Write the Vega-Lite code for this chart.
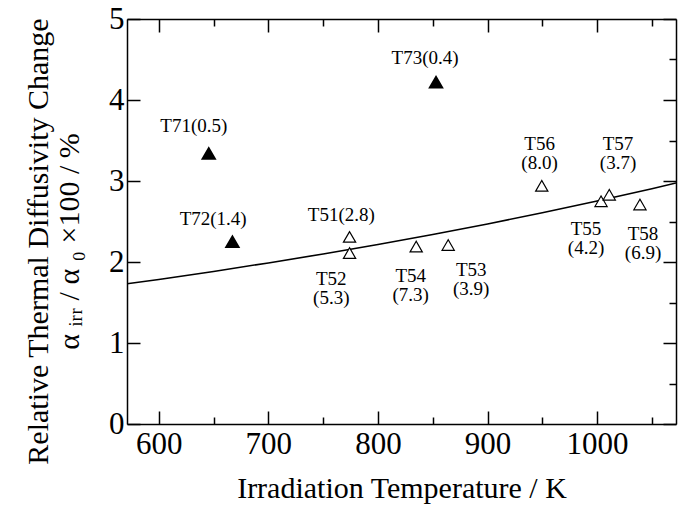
{
  "$schema": "https://vega.github.io/schema/vega-lite/v6.json",
  "width": 549,
  "height": 405,
  "autosize": "none",
  "padding": {"left": 127, "top": 19, "right": 4, "bottom": 85},
  "background": "white",
  "config": {
    "view": {"stroke": null},
    "font": "Liberation Serif",
    "text": {"font": "Liberation Serif"},
    "axis": {
      "grid": false,
      "domainColor": "black",
      "domainWidth": 1.5,
      "tickColor": "black",
      "tickWidth": 1.5,
      "labelColor": "black",
      "titleColor": "black",
      "labelFont": "Liberation Serif",
      "titleFont": "Liberation Serif",
      "labelFontSize": 31,
      "titleFontSize": 30,
      "titleFontWeight": "normal"
    }
  },
  "datasets": {
    "curve": [
      {"T": 571, "y": 1.73},
      {"T": 600, "y": 1.785},
      {"T": 650, "y": 1.884},
      {"T": 700, "y": 1.989},
      {"T": 750, "y": 2.1},
      {"T": 800, "y": 2.216},
      {"T": 850, "y": 2.34},
      {"T": 900, "y": 2.47},
      {"T": 950, "y": 2.607},
      {"T": 1000, "y": 2.752},
      {"T": 1050, "y": 2.905},
      {"T": 1072, "y": 2.975}
    ],
    "points": [
      {"id": "T71", "T": 645.6, "y": 3.34, "kind": "filled"},
      {"id": "T72", "T": 667.2, "y": 2.25, "kind": "filled"},
      {"id": "T73", "T": 853, "y": 4.22, "kind": "filled"},
      {"id": "T51", "T": 774.1, "y": 2.31, "kind": "open"},
      {"id": "T52", "T": 774.1, "y": 2.11, "kind": "open"},
      {"id": "T54", "T": 834.9, "y": 2.19, "kind": "open"},
      {"id": "T53", "T": 864.1, "y": 2.21, "kind": "open"},
      {"id": "T56", "T": 949.5, "y": 2.94, "kind": "open"},
      {"id": "T55", "T": 1003.6, "y": 2.75, "kind": "open"},
      {"id": "T57", "T": 1011.1, "y": 2.83, "kind": "open"},
      {"id": "T58", "T": 1039.1, "y": 2.71, "kind": "open"}
    ],
    "labels": [
      {"text": "T71(0.5)", "T": 632, "y": 3.68},
      {"text": "T72(1.4)", "T": 649.6, "y": 2.53},
      {"text": "T73(0.4)", "T": 843, "y": 4.52},
      {"text": "T51(2.8)", "T": 766.6, "y": 2.58},
      {"text": "T52\n(5.3)", "T": 757.4, "y": 1.789},
      {"text": "T54\n(7.3)", "T": 829.9, "y": 1.83},
      {"text": "T53\n(3.9)", "T": 885.1, "y": 1.904},
      {"text": "T56\n(8.0)", "T": 947.5, "y": 3.458},
      {"text": "T57\n(3.7)", "T": 1019.1, "y": 3.458},
      {"text": "T55\n(4.2)", "T": 989.9, "y": 2.405},
      {"text": "T58\n(6.9)", "T": 1041.9, "y": 2.343}
    ]
  },
  "resolve": {"axis": {"x": "independent", "y": "independent"}},
  "layer": [
    {
      "data": {"name": "curve"},
      "mark": {"type": "line", "color": "black", "strokeWidth": 1.5, "clip": true},
      "encoding": {
        "x": {
          "field": "T", "type": "quantitative",
          "scale": {"domain": [571, 1072], "nice": false, "zero": false},
          "axis": {
            "orient": "bottom",
            "title": "Irradiation Temperature / K",
            "format": "d",
            "values": [600, 650, 700, 750, 800, 850, 900, 950, 1000, 1050],
            "labelExpr": "datum.value % 100 === 0 ? datum.label : ''",
            "tickSize": {"condition": {"test": "datum.value % 100 === 0", "value": -13}, "value": -7},
            "labelPadding": 18,
            "labelFlush": false,
            "labelOverlap": false,
            "titlePadding": 8
          }
        },
        "y": {
          "field": "y", "type": "quantitative",
          "scale": {"domain": [0, 5], "nice": false},
          "axis": {
            "orient": "left",
            "title": ["Relative Thermal Diffusivity Change", "α ᵢᵣᵣ / α ₀ ×100 / %"],
            "titleLineHeight": 31,
            "titleY": 222,
            "format": "d",
            "values": [0, 0.5, 1, 1.5, 2, 2.5, 3, 3.5, 4, 4.5, 5],
            "labelExpr": "datum.value % 1 === 0 ? datum.label : ''",
            "tickSize": {"condition": {"test": "datum.value % 1 === 0", "value": -13}, "value": -7},
            "labelPadding": 16,
            "labelFlush": false,
            "labelOverlap": false,
            "titlePadding": 24
          }
        }
      }
    },
    {
      "data": {"name": "points"},
      "transform": [{"filter": "datum.kind === 'filled'"}],
      "mark": {"type": "point", "shape": "triangle-up", "filled": true, "fill": "black", "stroke": "black", "size": 150, "opacity": 1},
      "encoding": {
        "x": {
          "field": "T", "type": "quantitative",
          "axis": {
            "orient": "top", "title": null, "labels": false,
            "values": [600, 650, 700, 750, 800, 850, 900, 950, 1000, 1050],
            "tickSize": {"condition": {"test": "datum.value % 100 === 0", "value": -13}, "value": -7}
          }
        },
        "y": {
          "field": "y", "type": "quantitative",
          "axis": {
            "orient": "right", "title": null, "labels": false,
            "values": [0, 0.5, 1, 1.5, 2, 2.5, 3, 3.5, 4, 4.5, 5],
            "tickSize": {"condition": {"test": "datum.value % 1 === 0", "value": -13}, "value": -7}
          }
        }
      }
    },
    {
      "data": {"name": "points"},
      "transform": [{"filter": "datum.kind === 'open'"}],
      "mark": {"type": "point", "shape": "triangle-up", "filled": false, "fill": "white", "fillOpacity": 1, "stroke": "black", "strokeWidth": 1.2, "size": 150, "opacity": 1},
      "encoding": {
        "x": {"field": "T", "type": "quantitative", "axis": null},
        "y": {"field": "y", "type": "quantitative", "axis": null}
      }
    },
    {
      "data": {"name": "labels"},
      "mark": {"type": "text", "font": "Liberation Serif", "fontSize": 19, "color": "black", "align": "center", "baseline": "middle", "lineBreak": "\n", "lineHeight": 19},
      "encoding": {
        "x": {"field": "T", "type": "quantitative", "axis": null},
        "y": {"field": "y", "type": "quantitative", "axis": null},
        "text": {"field": "text"}
      }
    }
  ]
}
